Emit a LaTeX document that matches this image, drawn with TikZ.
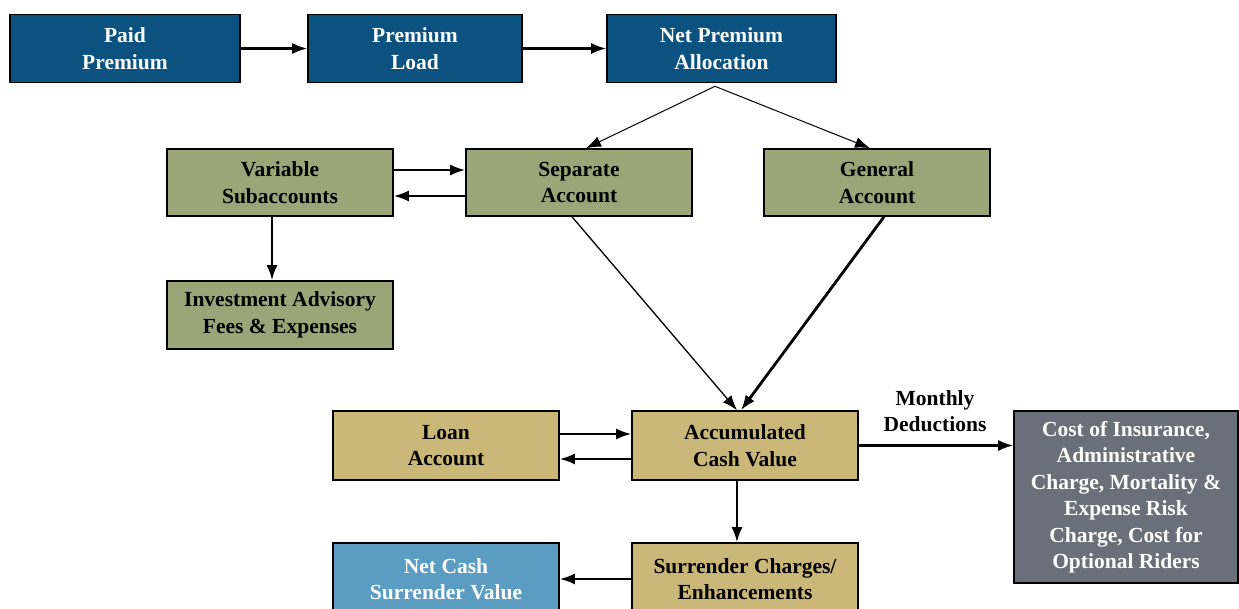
\documentclass[tikz,border=0pt]{standalone}
\usepackage{fontspec}
\setmainfont{Liberation Serif}
\usetikzlibrary{arrows.meta,calc}
\definecolor{dblue}{HTML}{0B5280}
\definecolor{olive}{HTML}{9CA577}
\definecolor{tan}{HTML}{CBB777}
\definecolor{lblue}{HTML}{5B9CC3}
\definecolor{slate}{HTML}{6A7079}
\begin{document}
\begin{tikzpicture}[x=1pt,y=-1pt,
  box/.style={draw=black, line width=1.6pt, minimum width=226pt, minimum height=68pt,
    align=center, inner sep=0pt, font=\bfseries\fontsize{21.5}{26.5}\selectfont},
  bluebox/.style={box, fill=dblue, text=white},
  olivebox/.style={box, fill=olive, text=black},
  tanbox/.style={box, fill=tan, text=black},
  tip/.style={-{Latex[length=15pt,width=11pt]}},
  arr/.style={line width=2.1pt, tip},
  thinarr/.style={line width=1pt, tip},
  lbl/.style={align=center, font=\bfseries\fontsize{21.5}{26.5}\selectfont}]
\useasboundingbox (0,0) rectangle (1239,608);
\fill[white] (0,0) rectangle (1239,608);

\node[bluebox, minimum width=230pt] (paid) at (125,48.5) {Paid\\Premium};
\node[bluebox, minimum width=214pt] (load) at (415,48.5) {Premium\\Load};
\node[bluebox, minimum width=229pt] (net) at (721.5,48.5) {Net Premium\\Allocation};

\node[olivebox, minimum height=67pt] (var) at (280,182.5) {Variable\\Subaccounts};
\node[olivebox, minimum height=67pt] (sep) at (579,182.5) {Separate\\Account};
\node[olivebox, minimum height=67pt] (gen) at (877,182.5) {General\\Account};
\node[olivebox] (inv) at (280,315) {Investment Advisory\\Fees \& Expenses};

\node[tanbox, minimum height=69pt] (loan) at (446,445.5) {Loan\\Account};
\node[tanbox, minimum height=69pt] (acc) at (745,445.5) {Accumulated\\Cash Value};
\node[box, fill=slate, text=white, minimum width=224pt, minimum height=172pt] (cost) at (1126,497)
  {Cost of Insurance,\\Administrative\\Charge, Mortality \&\\Expense Risk\\Charge, Cost for\\Optional Riders};
\node[box, fill=lblue, text=white, minimum height=72pt] (ncsv) at (446,579) {Net Cash\\Surrender Value};
\node[tanbox, minimum height=72pt] (surr) at (745,579) {Surrender Charges/\\Enhancements};

\node[lbl] (md) at (935,411) {Monthly\\Deductions};

\draw[arr] (paid) -- (load);
\draw[arr] (load) -- (net);
\coordinate (apex) at ($(net.south)+(-6.5pt,-3pt)$);
\draw[thinarr] (apex) -- ([xshift=7pt]sep.north);
\draw[thinarr] (apex) -- ([xshift=-7pt]gen.north);
\draw[arr] ([yshift=12.5pt]var.east) -- ([yshift=12.5pt]sep.west);
\draw[arr] ([yshift=-13.5pt]sep.west) -- ([yshift=-13.5pt]var.east);
\draw[arr] ([xshift=-8pt]var.south) -- ([xshift=-8pt]inv.north);
\draw[line width=1.3pt, tip] ([xshift=-7pt]sep.south) -- ([xshift=-8pt]acc.north);
\draw[line width=2.8pt, tip] ([xshift=7pt]gen.south) -- ([xshift=-4pt]acc.north);
\draw[arr] ([yshift=11.5pt]loan.east) -- ([yshift=11.5pt]acc.west);
\draw[arr] ([yshift=-13.5pt]acc.west) -- ([yshift=-13.5pt]loan.east);
\draw[arr] ([xshift=-8pt]acc.south) -- ([xshift=-8pt]surr.north);
\draw[arr] (surr) -- (ncsv);
\draw[arr] (acc.east) -- (acc.east -| cost.west);
\end{tikzpicture}
\end{document}
